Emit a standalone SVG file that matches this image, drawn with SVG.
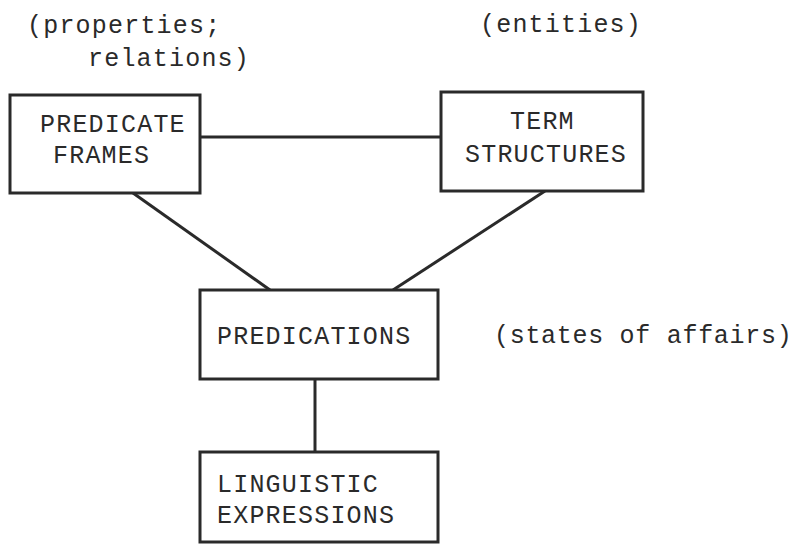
<svg xmlns="http://www.w3.org/2000/svg" width="799" height="544" viewBox="0 0 799 544">
<style>
.box{fill:#fff;stroke:#2a2a2a;stroke-width:3}
.ln{stroke:#2a2a2a;stroke-width:3;fill:none}
text{font-family:"Liberation Mono","Courier New",monospace;font-size:25px;fill:#2a2a2a;letter-spacing:1.2px}
.tight{letter-spacing:0.7px}
</style>
<rect width="799" height="544" fill="#fff"/>
<g id="connectors">
<line class="ln" x1="200" y1="137" x2="441" y2="137"/>
<line class="ln" x1="133" y1="193" x2="270" y2="290"/>
<line class="ln" x1="545" y1="191" x2="393" y2="290"/>
<line class="ln" x1="315" y1="379" x2="315" y2="452"/>
</g>
<g id="predicate-frames">
<rect class="box" x="10" y="95" width="190" height="98"/>
<text x="40" y="132">PREDICATE</text>
<text x="53" y="163">FRAMES</text>
</g>
<g id="term-structures">
<rect class="box" x="441" y="92" width="202" height="99"/>
<text x="510" y="129">TERM</text>
<text x="465" y="162">STRUCTURES</text>
</g>
<g id="predications">
<rect class="box" x="200" y="290" width="238" height="89"/>
<text x="217" y="344">PREDICATIONS</text>
</g>
<g id="linguistic-expressions">
<rect class="box" x="200" y="452" width="238" height="90"/>
<text x="217" y="492">LINGUISTIC</text>
<text x="217" y="523">EXPRESSIONS</text>
</g>
<g id="labels">
<text x="27" y="33">(properties;</text>
<text x="88" y="66">relations)</text>
<text x="480" y="32">(entities)</text>
<text class="tight" x="494" y="343">(states of affairs)</text>
</g>
</svg>
